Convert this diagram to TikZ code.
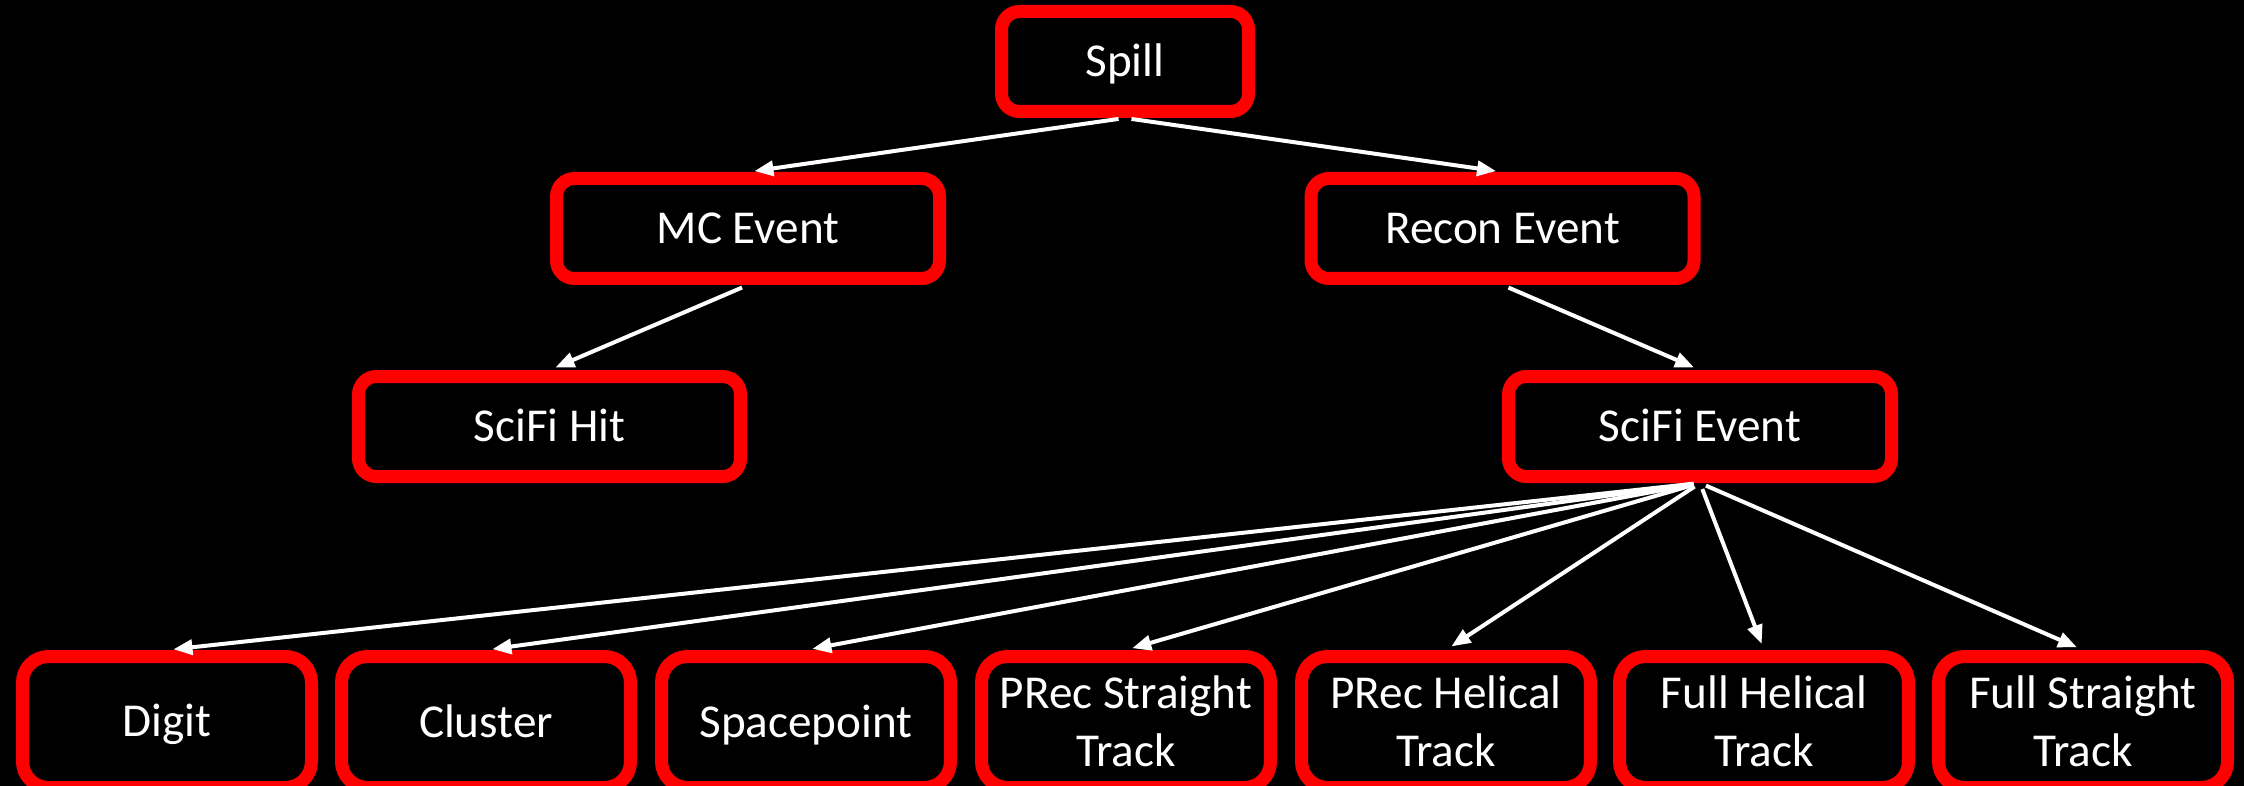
\documentclass[tikz,border=0pt]{standalone}
\usepackage{fontspec}
\setmainfont{Carlito}
\usetikzlibrary{arrows.meta}
\definecolor{boxred}{RGB}{255,0,0}
\newcommand\lnstrut{\rule[-4pt]{0pt}{23pt}}
\begin{document}
\begin{tikzpicture}[x=0.5pt,y=-0.5pt,
  box/.style={draw=boxred, line width=6.5pt, fill=black, text=white,
    rounded corners=9pt, inner sep=0pt, align=center,
    font=\fontsize{23.6}{29}\selectfont},
  topbox/.style={box, minimum height=50pt},
  lowbox/.style={box, minimum width=144.5pt, minimum height=65.5pt, rounded corners=13pt},
  link/.style={draw=white, line width=2pt, -{Triangle[length=9.5pt,width=7.5pt]},
    shorten <=3.25pt, shorten >=3.25pt}]
\fill[black] (0,0) rectangle (2244,786);
\useasboundingbox (0,0) rectangle (2244,786);

\node[topbox, minimum width=123.5pt] (spill) at (1125,61.5) {\lnstrut Spill};
\node[topbox, minimum width=191.5pt] (mc) at (748,228.5) {\lnstrut MC Event};
\node[topbox, minimum width=191.5pt] (recon) at (1502.5,228.5) {\lnstrut Recon Event};
\node[topbox, minimum width=191pt] (hit) at (549.5,426.5) {\lnstrut SciFi Hit};
\node[topbox, minimum width=191.5pt] (sfev) at (1700,426.5) {\lnstrut SciFi Event};

\node[lowbox] (digit) at (167,722) {\lnstrut Digit};
\node[lowbox] (cluster) at (486,722) {\lnstrut Cluster};
\node[lowbox] (space) at (806,722) {\lnstrut Spacepoint};
\node[lowbox] (prs) at (1126,722) {\lnstrut PRec Straight\\\lnstrut Track};
\node[lowbox] (prh) at (1446,722) {\lnstrut PRec Helical\\\lnstrut Track};
\node[lowbox] (fh) at (1764,722) {\lnstrut Full Helical\\\lnstrut Track};
\node[lowbox] (fs) at (2083,722) {\lnstrut Full Straight\\\lnstrut Track};

\draw[link] (spill.south) -- (mc.north);
\draw[link] (spill.south) -- (recon.north);
\draw[link] (mc.south) -- (hit.north);
\draw[link] (recon.south) -- (sfev.north);
\foreach \n in {digit,cluster,space,prs,prh,fh,fs}
  \draw[link] (sfev.south) -- (\n.north);
\end{tikzpicture}
\end{document}
